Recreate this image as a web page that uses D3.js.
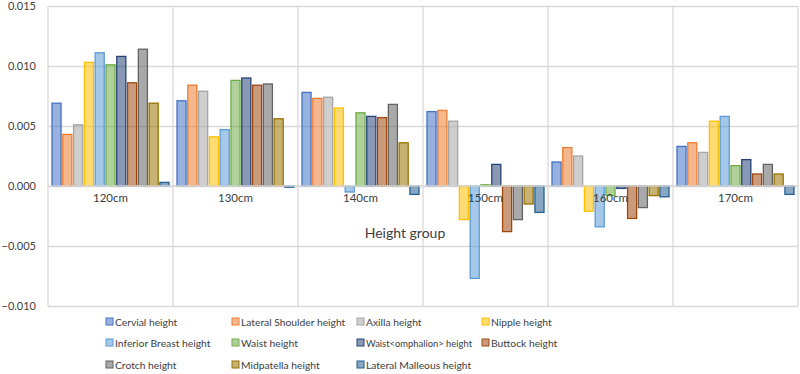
<!DOCTYPE html>
<html>
<head>
<meta charset="utf-8">
<script src="https://cdn.jsdelivr.net/npm/d3@7"></script>
<style>
  body { margin: 0; background: #fff; }
  svg { display: block; font-family: Lato, "Open Sans", sans-serif; }
</style>
</head>
<body>
<div id="chart"></div>
<script>
// data
const groups = ["120cm", "130cm", "140cm", "150cm", "160cm", "170cm"];
const seriesNames = [
  "Cervial height", "Lateral Shoulder height", "Axilla height", "Nipple height",
  "Inferior Breast height", "Waist height", "Waist<omphalion> height", "Buttock height",
  "Crotch height", "Midpatella height", "Lateral Malleous height"
];
const seriesColors = [
  "#4472C4", "#ED7D31", "#A5A5A5", "#FFC000", "#5B9BD5", "#70AD47",
  "#264478", "#9E480E", "#636363", "#997300", "#255E91"
];
// one row per group, one value per series
const values = [
  [0.0069, 0.0043, 0.0051, 0.0103, 0.0111, 0.0101, 0.0108, 0.0086, 0.0114, 0.0069, 0.0003],
  [0.0071, 0.0084, 0.0079, 0.0041, 0.0047, 0.0088, 0.0090, 0.0084, 0.0085, 0.0056, -0.0001],
  [0.0078, 0.0073, 0.0074, 0.0065, -0.0005, 0.0061, 0.0058, 0.0057, 0.0068, 0.0036, -0.0007],
  [0.0062, 0.0063, 0.0054, -0.0028, -0.0077, 0.0001, 0.0018, -0.0038, -0.0028, -0.0015, -0.0022],
  [0.0020, 0.0032, 0.0025, -0.0021, -0.0034, -0.0008, -0.0002, -0.0027, -0.0018, -0.0008, -0.0009],
  [0.0033, 0.0036, 0.0028, 0.0054, 0.0058, 0.0017, 0.0022, 0.0010, 0.0018, 0.0010, -0.0007]
];
const yTicks = [-0.010, -0.005, 0.000, 0.005, 0.010, 0.015];

const W = 800, H = 374;
const margin = { t: 6, r: 2, b: 68, l: 48 };

const svg = d3.select("#chart").append("svg")
  .attr("width", W).attr("height", H)
  .attr("viewBox", [0, 0, W, H]);

const y = d3.scaleLinear()
  .domain([-0.010, 0.015])
  .range([H - margin.b, margin.t]);

const x0 = d3.scaleBand()
  .domain(groups)
  .range([margin.l, W - margin.r])
  .paddingInner(0)
  .paddingOuter(0);

const x1 = d3.scaleBand()
  .domain(seriesNames)
  .range([4, x0.bandwidth() - 4])
  .paddingInner(0.16);

// horizontal grid
svg.append("g")
  .attr("transform", `translate(${margin.l},0)`)
  .call(d3.axisLeft(y).tickValues(yTicks).tickSize(-(W - margin.l - margin.r)).tickFormat(""))
  .call(g => g.select(".domain").remove())
  .call(g => g.selectAll("line").attr("stroke", "#d9d9d9").attr("stroke-width", 1.3));

// vertical grid at category boundaries
const bounds = groups.map(d => x0(d)).concat([x0(groups[groups.length - 1]) + x0.bandwidth()]);
svg.append("g").selectAll("line")
  .data(bounds)
  .join("line")
  .attr("x1", d => d).attr("x2", d => d)
  .attr("y1", y(0.015)).attr("y2", y(-0.010))
  .attr("stroke", "#d9d9d9").attr("stroke-width", 1.3);

// y axis labels
svg.append("g")
  .attr("transform", `translate(${margin.l},0)`)
  .call(d3.axisLeft(y).tickValues(yTicks).tickSize(0).tickPadding(12).tickFormat(d3.format(".3f")))
  .call(g => g.select(".domain").remove())
  .call(g => g.selectAll("text").attr("fill", "#404040").attr("font-size", 11).attr("font-family", "Lato, sans-serif"));

// bars
const gGroups = svg.append("g").selectAll("g")
  .data(groups)
  .join("g")
  .attr("transform", d => `translate(${x0(d)},0)`);

gGroups.selectAll("rect")
  .data((d, i) => seriesNames.map((s, j) => ({ s, j, v: values[i][j] })))
  .join("rect")
  .attr("x", d => x1(d.s))
  .attr("width", x1.bandwidth())
  .attr("y", d => y(Math.max(0, d.v)))
  .attr("height", d => Math.max(1, Math.abs(y(d.v) - y(0))))
  .attr("fill", d => seriesColors[d.j])
  .attr("fill-opacity", 0.55)
  .attr("stroke", d => seriesColors[d.j])
  .attr("stroke-width", 1.3);

// zero axis line
svg.append("line")
  .attr("x1", margin.l).attr("x2", W - margin.r)
  .attr("y1", y(0)).attr("y2", y(0))
  .attr("stroke", "#d9d9d9").attr("stroke-width", 1.3);

// category labels
svg.append("g").selectAll("text")
  .data(groups)
  .join("text")
  .attr("x", d => x0(d) + x0.bandwidth() / 2)
  .attr("y", y(0) + 16)
  .attr("text-anchor", "middle")
  .attr("font-size", 11.5)
  .attr("fill", "#404040")
  .text(d => d);

// axis title
svg.append("text")
  .attr("x", 405)
  .attr("y", 238)
  .attr("text-anchor", "middle")
  .attr("font-size", 14)
  .attr("fill", "#404040")
  .text("Height group");

// legend
const legCols = [110, 236, 361, 486];
const legRows = [322, 343, 365];
const leg = svg.append("g").selectAll("g")
  .data(seriesNames)
  .join("g")
  .attr("transform", (d, i) => `translate(${legCols[i % 4]},${legRows[Math.floor(i / 4)]})`);

leg.append("rect")
  .attr("x", -4).attr("y", -4)
  .attr("width", 7).attr("height", 7)
  .attr("fill", (d, i) => seriesColors[i])
  .attr("fill-opacity", 0.55)
  .attr("stroke", (d, i) => seriesColors[i])
  .attr("stroke-width", 1);

leg.append("text")
  .attr("x", 5)
  .attr("y", 4)
  .attr("font-size", 10.3)
  .attr("fill", "#404040")
  .text(d => d)
  .each(function () {
    // squeeze long labels so they don't run into the next column
    if (this.getComputedTextLength() > 106) {
      d3.select(this).attr("textLength", 106).attr("lengthAdjust", "spacingAndGlyphs");
    }
  });
</script>
</body>
</html>
